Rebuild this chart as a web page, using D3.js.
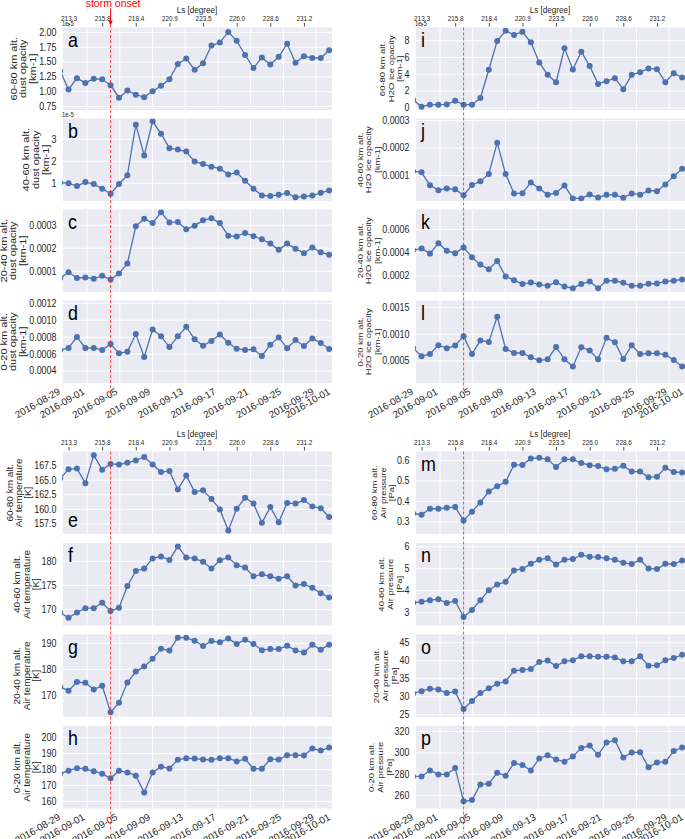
<!DOCTYPE html>
<html>
<head>
<meta charset="utf-8">
<script src="https://cdn.jsdelivr.net/npm/d3@7"></script>
<style>
  body { margin: 0; background: #fff; }
  svg { display: block; font-family: "Liberation Sans", Arial, sans-serif; }
</style>
</head>
<body>
<svg id="canvas" width="685" height="839"></svg>
<script>
// one observation per sol (first one sits just left of the axis)
const obsTimes = [
  "2016-08-28 18:32", "2016-08-29 19:12", "2016-08-30 19:52", "2016-08-31 20:31",
  "2016-09-01 21:11", "2016-09-02 21:50", "2016-09-03 22:30", "2016-09-04 23:10",
  "2016-09-05 23:49", "2016-09-07 00:29", "2016-09-08 01:08", "2016-09-09 01:48",
  "2016-09-10 02:28", "2016-09-11 03:07", "2016-09-12 03:47", "2016-09-13 04:26",
  "2016-09-14 05:06", "2016-09-15 05:46", "2016-09-16 06:25", "2016-09-17 07:05",
  "2016-09-18 07:44", "2016-09-19 08:24", "2016-09-20 09:04", "2016-09-21 09:43",
  "2016-09-22 10:23", "2016-09-23 11:02", "2016-09-24 11:42", "2016-09-25 12:22",
  "2016-09-26 13:01", "2016-09-27 13:41", "2016-09-28 14:20", "2016-09-29 15:00",
  "2016-09-30 15:40"
];
const stormIdx = 6;

const dateTicks = ["2016-08-29", "2016-09-01", "2016-09-05", "2016-09-09", "2016-09-13",
  "2016-09-17", "2016-09-21", "2016-09-25", "2016-09-29", "2016-10-01"];
const lsTickIdx = [1, 5, 9, 13, 17, 21, 25, 29];
const lsLabels = ["213.3", "215.8", "218.4", "220.9", "223.5", "226.0", "228.6", "231.2"];

// dust opacity [km-1]  (60-80 and 40-60 km are in units of 1e-5)
const dust6080 = [1.34, 1.03, 1.22, 1.14, 1.21, 1.20, 1.10, 0.89, 1.01, 0.94, 0.90, 1.00, 1.09,
  1.20, 1.46, 1.55, 1.36, 1.47, 1.77, 1.82, 2.00, 1.85, 1.61, 1.39, 1.57, 1.45, 1.58, 1.80,
  1.48, 1.59, 1.56, 1.56, 1.69];
const dust4060 = [1.00, 0.98, 0.85, 1.03, 0.94, 0.73, 0.50, 0.94, 1.34, 3.64, 2.24, 3.79, 3.23,
  2.57, 2.51, 2.42, 1.96, 1.85, 1.73, 1.64, 1.38, 1.46, 1.09, 0.73, 0.42, 0.40, 0.45, 0.53,
  0.34, 0.37, 0.42, 0.54, 0.65];
const dust2040 = [0.000068, 0.000094, 0.000069, 0.000071, 0.000066, 0.000078, 0.000062,
  0.000088, 0.000132, 0.000293, 0.000326, 0.000307, 0.000354, 0.000310, 0.000312, 0.000280,
  0.000296, 0.000319, 0.000328, 0.000307, 0.000252, 0.000249, 0.000264, 0.000250, 0.000237,
  0.000218, 0.000191, 0.000218, 0.000196, 0.000176, 0.000201, 0.000180, 0.000170];
const dust0020 = [0.000641, 0.000667, 0.000796, 0.000667, 0.000667, 0.000643, 0.000714,
  0.000604, 0.000624, 0.000831, 0.000561, 0.000886, 0.000804, 0.000678, 0.000804, 0.000918,
  0.000769, 0.000694, 0.000749, 0.000827, 0.000729, 0.000659, 0.000643, 0.000651, 0.000573,
  0.000706, 0.000792, 0.000663, 0.000761, 0.000690, 0.000780, 0.000725, 0.000655];

// H2O ice opacity [km-1]  (60-80 km in units of 1e-5)
const ice6080 = [0.91, 0.08, 0.32, 0.32, 0.36, 0.80, 0.32, 0.32, 1.12, 4.48, 7.92, 9.12, 8.64,
  9.00, 7.76, 5.36, 3.88, 3.00, 7.04, 4.52, 6.64, 4.92, 2.80, 3.12, 3.48, 2.16, 3.88, 4.20,
  4.64, 4.56, 3.00, 4.08, 3.56];
const ice4060 = [0.000114, 0.000110, 0.000063, 0.000045, 0.000051, 0.000048, 0.000026,
  0.000064, 0.000077, 0.000104, 0.000218, 0.000104, 0.000033, 0.000034, 0.000073, 0.000051,
  0.000028, 0.000035, 0.000062, 0.000015, 0.000015, 0.000029, 0.000018, 0.000028, 0.000028,
  0.000017, 0.000033, 0.000028, 0.000044, 0.000041, 0.000066, 0.000096, 0.000123];
const ice2040 = [0.000417, 0.000432, 0.000388, 0.000478, 0.000412, 0.000391, 0.000441,
  0.000357, 0.000293, 0.000252, 0.000325, 0.000191, 0.000159, 0.000125, 0.000139, 0.000122,
  0.000110, 0.000142, 0.000104, 0.000090, 0.000125, 0.000148, 0.000090, 0.000154, 0.000154,
  0.000136, 0.000110, 0.000110, 0.000128, 0.000130, 0.000148, 0.000154, 0.000165];
const ice0020 = [0.000731, 0.000576, 0.000620, 0.000785, 0.000728, 0.000778, 0.000956,
  0.000620, 0.000873, 0.000848, 0.001323, 0.000715, 0.000639, 0.000639, 0.000557, 0.000500,
  0.000519, 0.000753, 0.000519, 0.000386, 0.000747, 0.000684, 0.000519, 0.000924, 0.000842,
  0.000525, 0.000785, 0.000620, 0.000633, 0.000633, 0.000608, 0.000506, 0.000386];

// air temperature [K]
const temp6080 = [165.2, 166.8, 166.9, 164.4, 169.2, 166.7, 167.7, 167.6, 167.9, 168.3, 168.9,
  167.6, 166.3, 166.5, 163.3, 165.7, 162.9, 163.2, 161.7, 159.9, 156.3, 160.0, 161.9, 160.9,
  157.6, 160.3, 157.7, 161.0, 160.9, 161.5, 160.4, 160.1, 158.6];
const temp4060 = [169.3, 168.2, 169.3, 170.2, 170.2, 171.3, 169.6, 170.3, 174.8, 177.9, 178.4,
  180.5, 180.9, 180.2, 183.0, 180.7, 180.5, 179.8, 178.4, 180.1, 180.7, 179.1, 178.6, 176.8,
  177.2, 176.8, 176.3, 176.8, 174.9, 175.2, 174.4, 173.3, 172.4];
const temp2040 = [173.1, 171.7, 175.0, 174.7, 172.1, 173.6, 163.4, 167.1, 174.8, 179.0, 180.9,
  183.9, 187.7, 187.1, 192.0, 192.0, 190.8, 188.8, 190.7, 190.2, 191.7, 189.6, 191.2, 189.6,
  187.2, 187.6, 187.6, 188.9, 187.1, 186.3, 189.3, 187.4, 189.3];
const temp0020 = [177.1, 179.0, 180.6, 180.2, 178.6, 177.1, 174.2, 179.0, 177.9, 175.9, 165.3,
  177.9, 181.5, 180.4, 185.8, 186.8, 186.6, 186.0, 185.8, 186.8, 186.8, 184.8, 186.4, 180.2,
  180.2, 186.2, 186.0, 188.7, 188.7, 188.5, 192.9, 191.6, 193.5];

// air pressure [Pa]
const pres6080 = [0.339, 0.333, 0.362, 0.362, 0.367, 0.370, 0.305, 0.348, 0.393, 0.446, 0.472,
  0.493, 0.577, 0.575, 0.607, 0.610, 0.603, 0.566, 0.603, 0.603, 0.585, 0.574, 0.570, 0.554,
  0.557, 0.572, 0.543, 0.544, 0.515, 0.518, 0.562, 0.541, 0.539];
const pres4060 = [3.43, 3.47, 3.54, 3.59, 3.41, 3.51, 2.78, 3.10, 3.54, 4.00, 4.26, 4.38, 4.90,
  4.97, 5.20, 5.39, 5.46, 5.17, 5.39, 5.42, 5.61, 5.52, 5.51, 5.45, 5.39, 5.25, 5.19, 5.39,
  4.99, 4.96, 5.20, 5.19, 5.35];
const pres2040 = [30.8, 31.4, 32.1, 31.9, 30.9, 31.3, 26.5, 28.7, 30.9, 32.2, 33.5, 34.1, 37.1,
  37.3, 37.6, 39.5, 39.9, 38.4, 39.7, 40.0, 41.1, 41.1, 41.0, 41.0, 40.8, 39.7, 39.7, 41.1,
  38.5, 38.6, 40.0, 40.6, 41.5];
const pres0020 = [277.5, 277.5, 283.1, 279.4, 279.4, 285.3, 254.2, 255.4, 270.0, 270.7, 280.9,
  278.1, 290.0, 288.1, 283.1, 294.3, 297.4, 293.4, 291.2, 296.2, 304.0, 306.4, 297.7, 309.2,
  311.4, 295.2, 299.9, 300.2, 286.2, 290.6, 291.2, 301.2, 304.6];

// layout of the four groups of panels
const H = 82.5;
const SX = 0.85; // the original figures were squeezed sideways a bit
const blocks = [
  { x0: 62, x1: 332, tops: [27.5, 118.5, 209.5, 300.5], lsY: 26.5, stormTop: 25, stormBottom: 396, labelSize: 11, lh: 9.8 },
  { x0: 415, x1: 685, tops: [27.5, 118.5, 209.5, 300.5], lsY: 26.5, stormTop: 27.5, stormBottom: 394, labelSize: 9.5, lh: 8.2 },
  { x0: 62, x1: 332, tops: [451.5, 543, 634.5, 726], lsY: 450.5, stormTop: 451.5, stormBottom: 832, labelSize: 10, lh: 9.3 },
  { x0: 415, x1: 685, tops: [451.5, 543, 634.5, 726], lsY: 450.5, stormTop: 451.5, stormBottom: 832, labelSize: 9.5, lh: 8.8 }
];

const panels = [
  { id: "a", block: 0, row: 0, values: dust6080, domain: [0.683, 2.074], ticks: [0.75, 1.0, 1.25, 1.5, 1.75, 2.0], fmt: ".2f", offset: "1e-5", label: ["60-80 km alt.", "dust opacity", "[km-1]"] },
  { id: "b", block: 0, row: 1, values: dust4060, domain: [0.17, 3.92], ticks: [1, 2, 3], fmt: "d", offset: "1e-5", label: ["40-60 km alt.", "dust opacity", "[km-1]"] },
  { id: "c", block: 0, row: 2, values: dust2040, domain: [0.000008, 0.000366], ticks: [0.0001, 0.0002, 0.0003], fmt: ".4f", label: ["20-40 km alt.", "dust opacity", "[km-1]"] },
  { id: "d", block: 0, row: 3, values: dust0020, domain: [0.000254, 0.001227], ticks: [0.0004, 0.0006, 0.0008, 0.001, 0.0012], fmt: ".4f", label: ["0-20 km alt.", "dust opacity", "[km-1]"] },
  { id: "i", block: 1, row: 0, values: ice6080, domain: [-0.31, 9.52], ticks: [0, 2, 4, 6, 8], fmt: "d", offset: "1e-5", label: ["60-80 km alt.", "H2O ice opacity", "[km-1]"] },
  { id: "j", block: 1, row: 1, values: ice4060, domain: [0.0000055, 0.000306], ticks: [0.0001, 0.0002, 0.0003], fmt: ".4f", label: ["40-60 km alt.", "H2O ice opacity", "[km-1]"] },
  { id: "k", block: 1, row: 2, values: ice2040, domain: [0.000057, 0.000768], ticks: [0.0002, 0.0004, 0.0006], fmt: ".4f", label: ["20-40 km alt.", "H2O ice opacity", "[km-1]"] },
  { id: "l", block: 1, row: 3, values: ice0020, domain: [0.000074, 0.001627], ticks: [0.0005, 0.001, 0.0015], fmt: ".4f", label: ["0-20 km alt.", "H2O ice opacity", "[km-1]"] },
  { id: "e", block: 2, row: 0, values: temp6080, domain: [155.68, 169.83], ticks: [157.5, 160, 162.5, 165, 167.5], fmt: ".1f", label: ["60-80 km alt.", "Air temperature", "[K]"], letterLow: true },
  { id: "f", block: 2, row: 1, values: temp4060, domain: [166.6, 183.7], ticks: [170, 175, 180], fmt: "d", label: ["40-60 km alt.", "Air temperature", "[K]"] },
  { id: "g", block: 2, row: 2, values: temp2040, domain: [161.6, 193.2], ticks: [170, 180, 190], fmt: "d", label: ["20-40 km alt.", "Air temperature", "[K]"] },
  { id: "h", block: 2, row: 3, values: temp0020, domain: [155.3, 207.0], ticks: [160, 170, 180, 190, 200], fmt: "d", label: ["0-20 km alt.", "Air temperature", "[K]"] },
  { id: "m", block: 3, row: 0, values: pres6080, domain: [0.239, 0.641], ticks: [0.3, 0.4, 0.5, 0.6], fmt: ".1f", label: ["60-80 km alt.", "Air pressure", "[Pa]"] },
  { id: "n", block: 3, row: 1, values: pres4060, domain: [2.39, 6.15], ticks: [3, 4, 5, 6], fmt: "d", label: ["40-60 km alt.", "Air pressure", "[Pa]"] },
  { id: "o", block: 3, row: 2, values: pres2040, domain: [24.25, 47.15], ticks: [25, 30, 35, 40, 45], fmt: "d", label: ["20-40 km alt.", "Air pressure", "[Pa]"] },
  { id: "p", block: 3, row: 3, values: pres0020, domain: [247.5, 324.7], ticks: [260, 280, 300, 320], fmt: "d", label: ["0-20 km alt.", "Air pressure", "[Pa]"] }
];

const parseTime = d3.timeParse("%Y-%m-%d %H:%M");
const parseDay = d3.timeParse("%Y-%m-%d");
const times = obsTimes.map(parseTime);
const dayTicks = dateTicks.map(parseDay);

const canvas = d3.select("#canvas");
const blue = "#4C72B0";
const textColor = "#262626";

const xScale = (b) =>
  d3.scaleTime().domain([parseDay("2016-08-29"), parseDay("2016-10-01")]).range([b.x0, b.x1]);

const drawPanel = (p) => {
  const b = blocks[p.block];
  const top = b.tops[p.row];
  const w = b.x1 - b.x0;
  const x = xScale(b);
  const y = d3.scaleLinear().domain(p.domain).range([top + H, top]);
  const g = canvas.append("g").attr("class", "panel");

  g.append("rect")
    .attr("x", b.x0).attr("y", top)
    .attr("width", w).attr("height", H)
    .attr("fill", "#EAEAF2");

  // vertical grid on the date ticks
  const xg = g.append("g")
    .attr("transform", `translate(0,${top + H})`)
    .call(d3.axisBottom(x).tickValues(dayTicks).tickSize(-H).tickFormat(""));
  xg.select(".domain").remove();
  xg.selectAll("line").attr("stroke", "#fff").attr("stroke-width", 1);

  // y axis + horizontal grid
  const yg = g.append("g")
    .attr("transform", `translate(${b.x0},0)`)
    .call(d3.axisLeft(y).tickValues(p.ticks).tickSize(-w).tickPadding(5.5).tickFormat(d3.format(p.fmt)));
  yg.attr("font-family", null).attr("font-size", null);
  yg.select(".domain").remove();
  yg.selectAll("line").attr("stroke", "#fff").attr("stroke-width", 1);
  yg.selectAll("text")
    .attr("fill", textColor)
    .style("font-size", "10.5px")
    .each(function () {
      const t = d3.select(this);
      const tx = +t.attr("x");
      t.attr("x", 0).attr("transform", `translate(${tx},0) scale(${SX},1)`);
    });

  // line + markers, clipped to the plot area
  g.append("clipPath").attr("id", "clip-" + p.id)
    .append("rect")
    .attr("x", b.x0).attr("y", top)
    .attr("width", w).attr("height", H);
  const plot = g.append("g").attr("clip-path", `url(#clip-${p.id})`);
  plot.append("path")
    .datum(p.values)
    .attr("fill", "none")
    .attr("stroke", blue)
    .attr("stroke-width", 1.3)
    .attr("d", d3.line().x((d, i) => x(times[i])).y((d) => y(d)));
  plot.selectAll("circle")
    .data(p.values)
    .enter()
    .append("circle")
    .attr("cx", (d, i) => x(times[i]))
    .attr("cy", (d) => y(d))
    .attr("r", 3)
    .attr("fill", blue);

  // panel letter
  g.append("text")
    .attr("transform", `translate(${b.x0 + 6},${p.letterLow ? top + H - 7 : top + 19}) scale(${SX},1)`)
    .attr("fill", "#000")
    .style("font-size", "21px")
    .text(p.id);

  if (p.offset) {
    g.append("text")
      .attr("transform", `translate(${b.x0},${top - 2}) scale(${SX},1)`)
      .attr("fill", textColor)
      .style("font-size", "7px")
      .text(p.offset);
  }

  // three-line y label, placed just left of the tick labels
  const tickLeft = b.x0 + yg.node().getBBox().x;
  const fs = b.labelSize;
  const lastX = tickLeft - 1 - fs * 0.21 * SX;
  g.selectAll(".ylab")
    .data(p.label)
    .enter()
    .append("text")
    .attr("class", "ylab")
    .attr("transform", (d, i) =>
      `translate(${lastX - (p.label.length - 1 - i) * b.lh},${top + H / 2}) scale(${SX},1) rotate(-90)`)
    .attr("text-anchor", "middle")
    .attr("fill", textColor)
    .style("font-size", fs + "px")
    .text((d) => d);

  // date labels under the last panel of a block
  if (p.row === 3) {
    g.selectAll(".dlab")
      .data(dayTicks)
      .enter()
      .append("text")
      .attr("class", "dlab")
      .attr("transform", (d) => `translate(${x(d) - 1},${top + H + 10.5}) rotate(-30)`)
      .attr("text-anchor", "end")
      .attr("fill", textColor)
      .style("font-size", "9.8px")
      .text(d3.timeFormat("%Y-%m-%d"));
  }
};

const drawBlock = (b, bi) => {
  const x = xScale(b);
  // Ls axis on top
  const lg = canvas.append("g")
    .attr("transform", `translate(0,${b.lsY})`)
    .call(d3.axisTop(x)
      .tickValues(lsTickIdx.map((i) => times[i]))
      .tickFormat((d, i) => lsLabels[i])
      .tickSize(3.5)
      .tickPadding(2.5));
  lg.attr("font-family", null).attr("font-size", null);
  lg.select(".domain").remove();
  lg.selectAll("line").attr("stroke", textColor).attr("stroke-width", 0.8);
  lg.selectAll("text")
    .attr("fill", textColor)
    .style("font-size", "7.5px")
    .attr("transform", `scale(${SX},1)`);

  canvas.append("text")
    .attr("transform", `translate(${(b.x0 + b.x1) / 2},${b.lsY - 13.8}) scale(${SX},1)`)
    .attr("text-anchor", "middle")
    .attr("fill", textColor)
    .style("font-size", "9.5px")
    .text("Ls [degree]");

  // storm onset marker
  const sx = x(times[stormIdx]);
  canvas.append("line")
    .attr("x1", sx).attr("x2", sx)
    .attr("y1", b.stormTop).attr("y2", b.stormBottom)
    .attr("stroke", "red")
    .attr("stroke-opacity", 0.7)
    .attr("stroke-width", 1)
    .attr("stroke-dasharray", "3,2");

  if (bi === 0) {
    canvas.append("line")
      .attr("x1", sx).attr("x2", sx)
      .attr("y1", 8.5).attr("y2", 21)
      .attr("stroke", "red")
      .attr("stroke-width", 1);
    canvas.append("path")
      .attr("d", `M${sx - 2.3},20.5L${sx + 2.3},20.5L${sx},25.5Z`)
      .attr("fill", "red");
    canvas.append("text")
      .attr("x", sx + 2.5)
      .attr("y", 7)
      .attr("text-anchor", "middle")
      .attr("fill", "red")
      .style("font-size", "10.5px")
      .text("storm onset");
  }
};

panels.forEach(drawPanel);
blocks.forEach(drawBlock);
</script>
</body>
</html>
